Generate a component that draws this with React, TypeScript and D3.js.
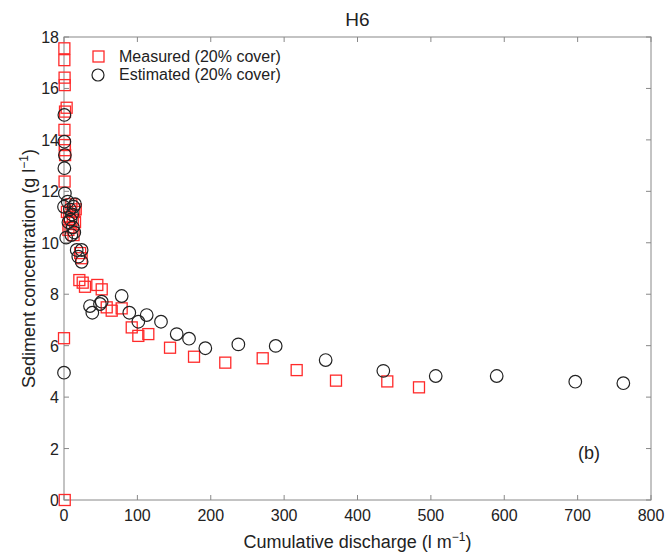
import React from "react";
import * as d3 from "d3";

const measuredX = [0.5, 0.5, 0.8, 1.0, 3.6, 1.4, 0.6, 1.2, 1.2, 1.5, 0.8, 4, 7, 10, 12, 14, 15, 9, 13, 6, 16, 22, 24, 20.9, 25.5, 28.6, 45.4, 51.4, 58.2, 65, 78.6, 92.3, 101.3, 114.9, 144.5, 177.2, 219.8, 270.8, 317.1, 370.7, 440.6, 483.8, 0, 1];
const measuredY = [17.56, 17.1, 16.42, 16.13, 15.25, 15.1, 14.39, 13.8, 13.6, 13.41, 12.38, 11.2, 11.0, 11.5, 10.9, 11.2, 10.8, 10.6, 10.3, 10.5, 11.3, 9.6, 9.4, 8.55, 8.45, 8.29, 8.36, 8.19, 7.49, 7.36, 7.45, 6.71, 6.38, 6.45, 5.92, 5.57, 5.34, 5.51, 5.05, 4.64, 4.61, 4.38, 6.29, 0];

const estimatedX = [0.5, 0.5, 1.2, 0.5, 1.2, 0, 5, 8, 11, 13, 15, 6, 9, 12, 10, 14, 3, 17.3, 19.5, 24, 24, 35.4, 38.6, 49, 51.4, 78.6, 89, 101.3, 112.7, 132.2, 153.6, 170.4, 192.6, 237.6, 288.5, 356.6, 435.2, 506.6, 589.7, 696.8, 762.3, 0];
const estimatedY = [14.97, 13.93, 13.41, 12.9, 11.92, 11.4, 11.6, 11.3, 11.1, 11.4, 11.5, 10.8, 10.9, 10.6, 10.3, 10.4, 10.2, 9.72, 9.46, 9.72, 9.26, 7.54, 7.28, 7.62, 7.71, 7.93, 7.28, 6.93, 7.19, 6.93, 6.45, 6.27, 5.9, 6.05, 5.99, 5.44, 5.02, 4.82, 4.82, 4.6, 4.54, 4.95];

const xTicks = [0, 100, 200, 300, 400, 500, 600, 700, 800];
const yTicks = [0, 2, 4, 6, 8, 10, 12, 14, 16, 18];

const W = 666, H = 555;
const L = 64, R = 651, T = 37, B = 500;
const font = "'Liberation Sans', Arial, sans-serif";

export default function App() {
  const x = d3.scaleLinear().domain([0, 800]).range([L, R]);
  const y = d3.scaleLinear().domain([0, 18]).range([B, T]);
  const axisColor = "#888";
  const tk = 5;
  return (
    <svg width={W} height={H} style={{ position: "absolute", left: 0, top: 0, background: "#fff" }} fontFamily={font}>
      <rect x={L} y={T} width={R - L} height={B - T} fill="none" stroke={axisColor} strokeWidth={1} />
      {xTicks.map((t) => (
        <g key={"x" + t}>
          <line x1={x(t)} x2={x(t)} y1={B} y2={B - tk} stroke={axisColor} />
          <line x1={x(t)} x2={x(t)} y1={T} y2={T + tk} stroke={axisColor} />
          <text x={x(t)} y={B + 21} textAnchor="middle" fontSize={16} fill="#222">{t}</text>
        </g>
      ))}
      {yTicks.map((t) => (
        <g key={"y" + t}>
          <line x1={L} x2={L + tk} y1={y(t)} y2={y(t)} stroke={axisColor} />
          <line x1={R} x2={R - tk} y1={y(t)} y2={y(t)} stroke={axisColor} />
          <text x={L - 5} y={y(t) + 6} textAnchor="end" fontSize={16} fill="#222">{t}</text>
        </g>
      ))}
      {measuredX.map((v, i) => (
        <rect key={"m" + i} x={x(v) - 5.5} y={y(measuredY[i]) - 5.5} width={11} height={11} fill="none" stroke="#ff2a2a" strokeWidth={1.3} />
      ))}
      {estimatedX.map((v, i) => (
        <circle key={"e" + i} cx={x(v)} cy={y(estimatedY[i])} r={6.3} fill="none" stroke="#222" strokeWidth={1.2} />
      ))}
      <text x={(L + R) / 2} y={26} textAnchor="middle" fontSize={19} fill="#222">H6</text>
      <text x={(L + R) / 2} y={548} textAnchor="middle" fontSize={18} fill="#222">
        Cumulative discharge (l m<tspan dy={-7} fontSize={12}>−1</tspan><tspan dy={7}>)</tspan>
      </text>
      <text transform={`translate(35, ${(T + B) / 2}) rotate(-90)`} textAnchor="middle" fontSize={18} fill="#222">
        Sediment concentration (g l<tspan dy={-7} fontSize={12}>−1</tspan><tspan dy={7}>)</tspan>
      </text>
      <rect x={93} y={51} width={11} height={11} fill="none" stroke="#ff2a2a" strokeWidth={1.3} />
      <text x={119} y={62} fontSize={16} fill="#222">Measured (20% cover)</text>
      <circle cx={98} cy={75} r={6} fill="none" stroke="#222" strokeWidth={1.2} />
      <text x={119} y={80} fontSize={16} fill="#222">Estimated (20% cover)</text>
      <text x={578} y={459} fontSize={18} fill="#222">(b)</text>
    </svg>
  );
}
